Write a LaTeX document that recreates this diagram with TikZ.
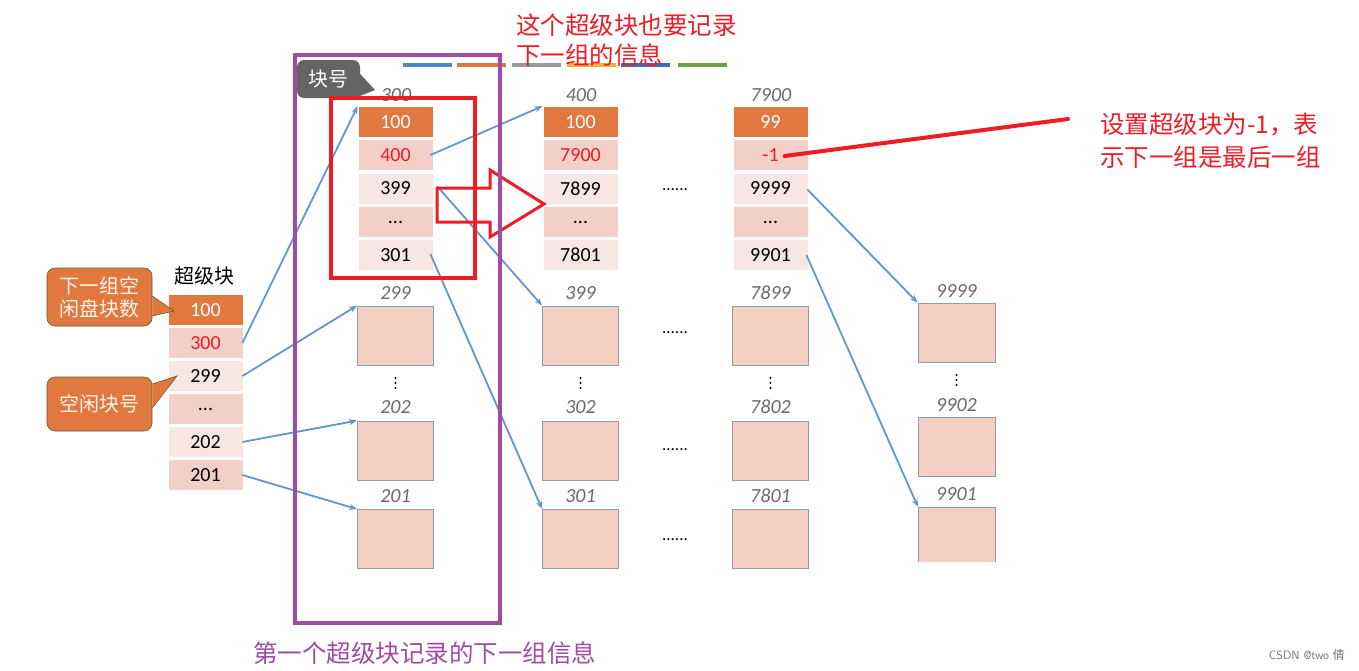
\documentclass[tikz,border=0pt]{standalone}
\usepackage{fontspec}
\setmainfont{Carlito}
\newfontfamily\cjk{Noto Sans CJK SC}
\usetikzlibrary{arrows.meta}
\definecolor{dorange}{HTML}{E07840}
\definecolor{pinkA}{HTML}{F2D0C8}
\definecolor{pinkB}{HTML}{F8E6E2}
\definecolor{boxfill}{HTML}{F6CFC3}
\definecolor{boxline}{HTML}{8C9DB8}
\definecolor{arrowblue}{HTML}{6496CA}
\definecolor{lblgray}{HTML}{6A6A6A}
\definecolor{redline}{HTML}{EE1C25}
\definecolor{purp}{HTML}{A04CA4}
\definecolor{calloutgray}{HTML}{646464}
\tikzset{
  cellbase/.style={minimum width=75pt,minimum height=31pt,inner sep=0pt,font=\fontsize{20}{20}\selectfont,draw=white,line width=0.8pt},
  headcell/.style={cellbase,fill=dorange,text=white},
  cellA/.style={cellbase,fill=pinkA,text=black},
  cellB/.style={cellbase,fill=pinkB,text=black},
  redtxt/.style={text=redline,font=\cjk\fontsize{24.5}{24.5}\selectfont,anchor=west,inner sep=0pt},
  blk/.style={minimum width=76pt,minimum height=59pt,inner sep=0pt,fill=boxfill,draw=boxline,line width=0.8pt},
  itlabel/.style={font=\fontsize{20}{20}\selectfont\itshape,text=lblgray,inner sep=0pt},
  conn/.style={arrowblue,line width=1.8pt,-{Stealth[length=8pt,width=6pt]}},
  hdots/.style={font=\fontsize{17}{17}\selectfont,inner sep=0pt},
  callout/.style={rounded corners=8pt,fill=dorange,draw=black!40!olive,line width=0.6pt,text=white!92!orange,inner sep=0pt,font=\cjk\fontsize{20}{23}\selectfont,align=center},
}
\newcommand{\vdotmark}[1]{\foreach \dy in {-5,0,5}{\fill ($(#1)+(0,\dy)$) circle (1.1pt);}}
\usetikzlibrary{calc}
\begin{document}
\begin{tikzpicture}[x=1pt,y=-1pt]
\useasboundingbox (0,0) rectangle (1359,670);
\fill[white] (0,0) rectangle (1359,670);

% top colored strips
\foreach \xa/\c in {403/4F86C6,457/E07840,512/9A9A9A,567/F2B042,621/3F6BB8,678/70A045}{
  \definecolor{tmpc}{HTML}{\c}
  \draw[tmpc,line width=4pt] (\xa,65) -- ++(49,0);
}

% superblock
\node[font=\cjk\fontsize{20}{20}\selectfont,inner sep=0pt] (sblbl) at (204,276) {超级块};
\node[headcell] (s1) at (205.5,310) {100};
\node[cellA,text=redline] (s2) at (205.5,343) {300};
\node[cellB] (s3) at (205.5,376) {299};
\node[cellA] (s4) at (205.5,409) {...};
\node[cellB] (s5) at (205.5,442) {202};
\node[cellA] (s6) at (205.5,475) {201};

% callouts
\node[callout,minimum width=105pt,minimum height=58pt] (co1) at (99.5,297) {下一组空\\闲盘块数};
\fill[dorange] ([yshift=1pt]co1.east) -- (174,311) -- ([yshift=-19pt]co1.east) -- cycle;
\draw[black!40!olive,line width=0.6pt] ([yshift=1pt]co1.east) -- (174,311) -- ([yshift=-19pt]co1.east);
\node[callout,minimum width=105pt,minimum height=54pt] (co2) at (99.5,404) {空闲块号};
\fill[dorange] ([yshift=-4pt]co2.east) -- (177,376) -- ([yshift=20pt]co2.east) -- cycle;
\draw[black!40!olive,line width=0.6pt] ([yshift=-4pt]co2.east) -- (177,376) -- ([yshift=20pt]co2.east);

% 块号 callout
\node[rounded corners=7pt,fill=calloutgray,text=white,minimum width=63pt,minimum height=38pt,inner sep=0pt,font=\cjk\fontsize{20}{20}\selectfont] (co3) at (328.5,79) {块号};
\fill[calloutgray] ([yshift=5pt]co3.east) -- (375,90) -- ([xshift=-6pt]co3.south east) -- cycle;

% column 300
\node[itlabel] (l300) at (396,95) {300};
\node[headcell] (a1) at (395.5,122) {100};
\node[cellA,text=redline] (a2) at (395.5,155) {400};
\node[cellB] (a3) at (395.5,188.5) {399};
\node[cellA] (a4) at (395.5,222) {...};
\node[cellB] (a5) at (395.5,255) {301};

% column 400
\node[itlabel] (l400) at (581,95) {400};
\node[headcell] (b1) at (580.5,122) {100};
\node[cellA,text=redline] (b2) at (580.5,155) {7900};
\node[cellB] (b3) at (580.5,188.5) {7899};
\node[cellA] (b4) at (580.5,222) {...};
\node[cellB] (b5) at (580.5,255) {7801};

% column 7900
\node[itlabel] (l7900) at (771,95) {7900};
\node[headcell] (c1) at (770.5,122) {99};
\node[cellA,text=redline] (c2) at (770.5,155) {-1};
\node[cellB] (c3) at (770.5,188.5) {9999};
\node[cellA] (c4) at (770.5,222) {...};
\node[cellB] (c5) at (770.5,255) {9901};

\node[hdots] (hd0) at (675,190) {......};

% block columns
\foreach \nm/\xc/\la/\lb/\lc in {A/395.5/299/202/201, B/580.5/399/302/301, C/770.5/7899/7802/7801}{
  \node[itlabel] (\nm la) at (\xc,293) {\la};
  \node[blk] (\nm1) at (\xc,335.5) {};
  \coordinate (\nm v) at (\xc,383);
  \vdotmark{\nm v}
  \node[itlabel] (\nm lb) at (\xc,407) {\lb};
  \node[blk] (\nm2) at (\xc,450.5) {};
  \node[itlabel] (\nm lc) at (\xc,496) {\lc};
  \node[blk] (\nm3) at (\xc,539) {};
}
\node[itlabel] (Dla) at (956.5,291) {9999};
\node[blk,minimum width=77pt] (D1) at (956.5,332.5) {};
\coordinate (Dv) at (956.5,380);
\vdotmark{Dv}
\node[itlabel] (Dlb) at (956.5,405) {9902};
\node[blk,minimum width=77pt] (D2) at (956.5,446.5) {};
\node[itlabel] (Dlc) at (956.5,494) {9901};
\fill[boxfill] (918,507) rectangle (995,562);
\draw[boxline,line width=0.8pt] (918,562) -- (918,507) coordinate (D3nw) -- (995,507) -- (995,562);

\node[hdots] (hd1) at (675,333) {......};
\node[hdots] (hd2) at (675,450) {......};
\node[hdots] (hd3) at (675,540) {......};

% connectors
\draw[conn] ([xshift=-1pt]s2.east) -- (a1.north west);
\draw[conn] ([xshift=-1pt]s3.east) -- (A1.north west);
\draw[conn] ([xshift=-1pt]s5.east) -- (A2.north west);
\draw[conn] ([xshift=-1pt]s6.east) -- (A3.north west);
\draw[conn] ([xshift=-3pt]a2.east) -- (b1.north west);
\draw[conn] ([xshift=4pt,yshift=2pt]a3.east) -- (B1.north west);
\draw[conn] ([xshift=-3pt,yshift=1pt]a5.east) -- (B3.north west);
\draw[conn] ([xshift=-1pt,yshift=-1pt]c3.east) -- (D1.north west);
\draw[conn] ([xshift=-2pt]c5.east) -- (D3nw);

% red frame and hollow arrow
\draw[redline,line width=4pt] (331,98) rectangle (475,278);
\draw[redline,line width=3pt,line join=miter] (437,188) -- (490,188) -- (490,170) -- (544,204) -- (490,237) -- (490,222) -- (437,222) -- cycle;

% purple frame
\draw[purp,line width=4pt] (295,55) rectangle (500,623);

% red pointer line
\coordinate (rl) at (1068,119);
\draw[redline,line width=4pt,line cap=round] ([xshift=14pt,yshift=-1pt]c2.center) -- (rl);

% annotations
\node[redtxt] (t1a) at (516,25) {这个超级块也要记录};
\node[redtxt] (t1b) at (516,55) {下一组的信息};
\node[redtxt] (t2a) at (1100,125) {设置超级块为-1，表};
\node[redtxt] (t2b) at (1100,157) {示下一组是最后一组};
\node[text=purp,font=\cjk\fontsize{24.5}{24.5}\selectfont,anchor=west,inner sep=0pt] (t3) at (253,653) {第一个超级块记录的下一组信息};
\node[text=black!55,font=\fontsize{12}{12}\selectfont\sffamily,anchor=east,inner sep=0pt] (wm) at (1345,655) {CSDN @two {\cjk 倩}};
\end{tikzpicture}
\end{document}
